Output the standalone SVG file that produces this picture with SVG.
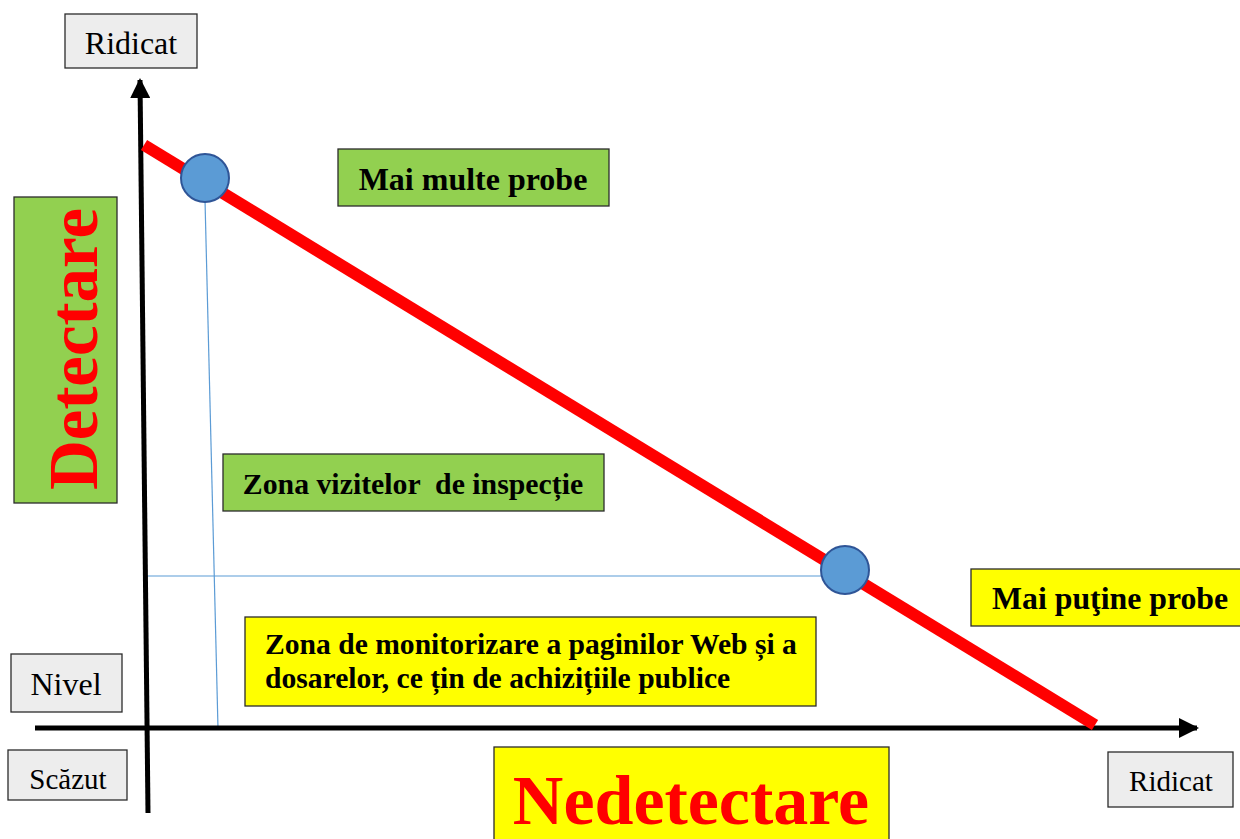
<svg xmlns="http://www.w3.org/2000/svg" width="1240" height="839" viewBox="0 0 1240 839">
<style>
.box{stroke:#2b2b2b;stroke-width:1.3}
.gray{fill:#EDEDED}
.green{fill:#92D050}
.yellow{fill:#FFFF00}
.t{font-family:"Liberation Serif","Times New Roman",serif;fill:#000}
.b{font-weight:bold}
.red{fill:#FF0000;font-weight:bold}
.axis{stroke:#000;stroke-width:5;fill:none}
.guide{stroke:#5B9BD5;stroke-width:1.2;fill:none}
.pt{fill:#5B9BD5;stroke:#2F5597;stroke-width:2}
</style>
<defs>
<marker id="arr" markerWidth="4" markerHeight="4" refX="3.6" refY="2" orient="auto" markerUnits="strokeWidth">
<path d="M0,0 L4,2 L0,4 Z" fill="#000"/>
</marker>
</defs>
<rect width="1240" height="839" fill="#fff"/>
<g id="connectors">
<line class="guide" x1="205" y1="200" x2="218" y2="728"/>
<line class="guide" x1="146" y1="576" x2="822" y2="576"/>
<line class="axis" x1="148" y1="813" x2="140" y2="80" marker-end="url(#arr)"/>
<line class="axis" x1="35" y1="728" x2="1197" y2="728" marker-end="url(#arr)"/>
<line x1="144" y1="145" x2="1095" y2="725" stroke="#FF0000" stroke-width="12"/>
</g>
<g id="point-high"><circle class="pt" cx="205" cy="178" r="24"/></g>
<g id="point-low"><circle class="pt" cx="845" cy="570" r="24"/></g>
<g id="ridicat-y"><rect class="box gray" x="65" y="14" width="132" height="54"/><text class="t" x="131" y="54" font-size="32" text-anchor="middle">Ridicat</text></g>
<g id="detectare"><rect class="box green" x="14" y="197" width="103" height="306"/><text class="t red" transform="translate(97,349) rotate(-90)" font-size="69" text-anchor="middle">Detectare</text></g>
<g id="mai-multe"><rect class="box green" x="338" y="149" width="271" height="57"/><text class="t b" x="473" y="190" font-size="32" text-anchor="middle">Mai multe probe</text></g>
<g id="zona-vizite"><rect class="box green" x="223" y="454" width="381" height="57"/><text class="t b" x="413" y="494" font-size="29.8" text-anchor="middle" xml:space="preserve">Zona vizitelor  de inspecție</text></g>
<g id="zona-monitorizare"><rect class="box yellow" x="245" y="617" width="571" height="89"/><text class="t b" x="265" y="654" font-size="29.6">Zona de monitorizare a paginilor Web și a</text><text class="t b" x="265" y="688" font-size="29.6">dosarelor, ce țin de achizițiile publice</text></g>
<g id="mai-putine"><rect class="box yellow" x="971" y="569" width="275" height="57"/><text class="t b" x="992" y="609" font-size="31.8">Mai puţine probe</text></g>
<g id="nivel"><rect class="box gray" x="11" y="654" width="111" height="58"/><text class="t" x="66" y="695" font-size="32" text-anchor="middle">Nivel</text></g>
<g id="scazut"><rect class="box gray" x="8" y="750" width="119" height="50"/><text class="t" x="68" y="789" font-size="29" text-anchor="middle">Scăzut</text></g>
<g id="ridicat-x"><rect class="box gray" x="1108" y="752" width="125" height="55"/><text class="t" x="1171" y="791" font-size="29" text-anchor="middle">Ridicat</text></g>
<g id="nedetectare"><rect class="box yellow" x="494" y="747" width="395" height="100"/><text class="t red" x="691" y="824" font-size="70" text-anchor="middle">Nedetectare</text></g>
</svg>
